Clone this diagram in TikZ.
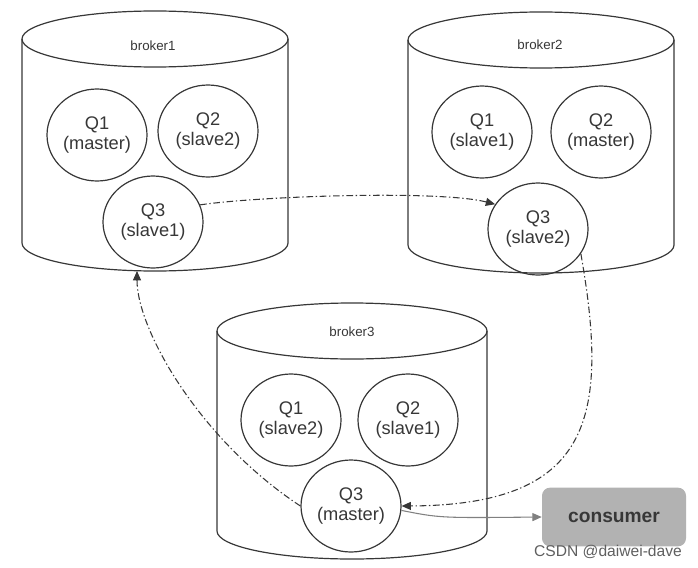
\documentclass[tikz,border=0pt]{standalone}
\usepackage{fontspec}
\setmainfont{Liberation Sans}
\usetikzlibrary{shapes.geometric,arrows.meta}
\definecolor{linegray}{RGB}{55,55,55}
\definecolor{boxgray}{RGB}{178,178,178}
\definecolor{markgray}{RGB}{95,95,95}
\begin{document}
\begin{tikzpicture}[x=0.75pt,y=-0.75pt,
    db/.style={draw=linegray,line width=0.9pt},
    queue/.style={draw=linegray,line width=0.9pt,ellipse,minimum width=75pt,
      minimum height=69pt,inner sep=0pt,align=center,
      font=\fontsize{13.7}{15}\selectfont,text=linegray},
    dbname/.style={font=\fontsize{10}{12}\selectfont,text=linegray},
    sync/.style={draw=linegray,line width=0.8pt,
      dash pattern=on 5pt off 2pt on 1pt off 2pt,
      -{Triangle[length=7pt,width=6pt]}},
  ]
  \useasboundingbox (0,0) rectangle (698,567);
  % brokers
  \draw[db] (155,39) ellipse [x radius=133,y radius=28];
  \draw[db] (22,39) -- (22,243) arc [start angle=180,end angle=0,x radius=133,y radius=28] -- (288,39);
  \draw[db] (541,40) ellipse [x radius=133,y radius=28];
  \draw[db] (408,40) -- (408,245) arc [start angle=180,end angle=0,x radius=133,y radius=28] -- (674,40);
  \draw[db] (352,331) ellipse [x radius=135,y radius=28];
  \draw[db] (217,331) -- (217,531) arc [start angle=180,end angle=0,x radius=135,y radius=28] -- (487,331);
  \node[dbname] (b1) at (153,46) {broker1};
  \node[dbname] (b2) at (540,45) {broker2};
  \node[dbname] (b3) at (352,332) {broker3};
  \coordinate (b1bot) at (137,271);
  % queues
  \node[queue] (b1q1) at (97,135) {Q1\\(master)};
  \node[queue] (b1q2) at (208,131) {Q2\\(slave2)};
  \node[queue] (b1q3) at (153,222) {Q3\\(slave1)};
  \node[queue] (b2q1) at (482,132) {Q1\\(slave1)};
  \node[queue] (b2q2) at (601,132) {Q2\\(master)};
  \node[queue] (b2q3) at (538,229) {Q3\\(slave2)};
  \node[queue] (b3q1) at (291,420) {Q1\\(slave2)};
  \node[queue] (b3q2) at (408,420) {Q2\\(slave1)};
  \node[queue] (b3q3) at (351,506) {Q3\\(master)};
  % consumer
  \node[fill=boxgray,rounded corners=6pt,minimum width=108pt,minimum height=44pt,
    font=\fontsize{14.4}{16}\bfseries,text=linegray] (cons) at (614,517) {consumer};
  \node[font=\fontsize{11.7}{13}\selectfont,text=markgray] (mark) at (608,552) {CSDN @daiwei-dave};
  % replication
  \draw[sync] (b1q3.20) .. controls (260,196) and (440,190) .. (b2q3.150);
  \draw[sync] (b2q3.-30) .. controls (610,420) and (590,505) .. (b3q3.east);
  \draw[sync] (b3q3.west) .. controls (200,440) and (137,330) .. (b1bot);
  \draw[draw=gray,line width=0.8pt,-{Triangle[length=7pt,width=6pt]}]
    (b3q3.-5) .. controls (440,518) .. (cons.west);
\end{tikzpicture}
\end{document}
